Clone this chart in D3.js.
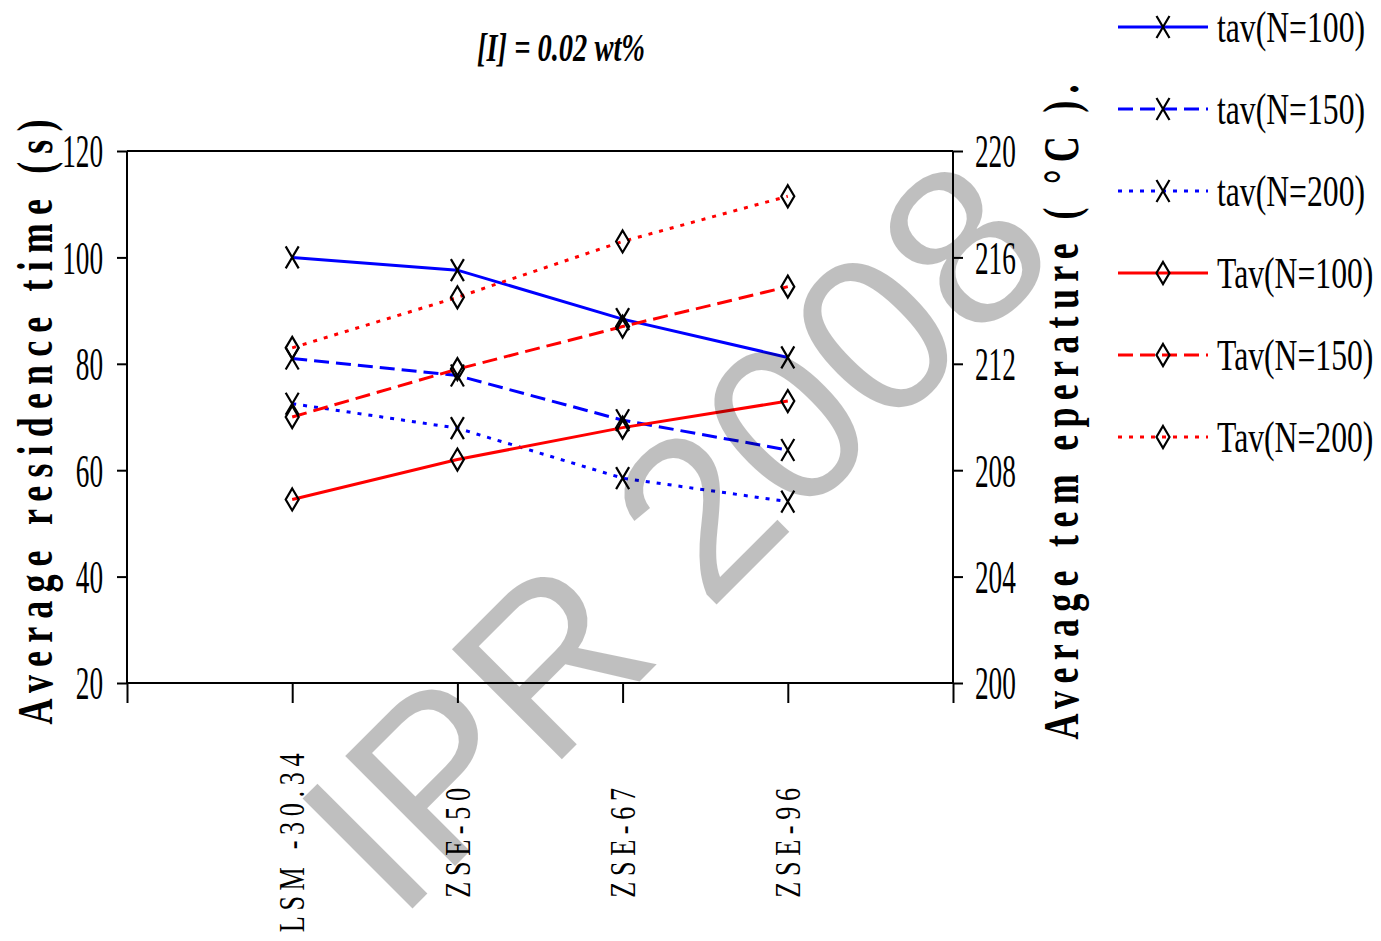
<!DOCTYPE html>
<html><head><meta charset="utf-8">
<script src="https://cdn.jsdelivr.net/npm/d3@7"></script>
<style>body{margin:0;background:#fff}svg{display:block}</style>
</head><body><svg id="c" width="1381" height="941"></svg>
<script>
const categories = ["LSM -30.34", "ZSE-50", "ZSE-67", "ZSE-96"];
const tav100 = [100, 97.6, 88.4, 81.2];
const tav150 = [81, 77.8, 69.4, 63.8];
const tav200 = [72.5, 67.9, 58.5, 54.1];
const Tav100 = [206.9, 208.4, 209.6, 210.6];
const Tav150 = [210.0, 211.8, 213.4, 214.9];
const Tav200 = [212.6, 214.5, 216.6, 218.3];
const leftTicks = [20, 40, 60, 80, 100, 120];
const rightTicks = [200, 204, 208, 212, 216, 220];
const seriesNames = ["tav(N=100)", "tav(N=150)", "tav(N=200)", "Tav(N=100)", "Tav(N=150)", "Tav(N=200)"];
const titleText = "[I] = 0.02 wt%";
const leftTitle = "Average residence time (s)";
const rightTitle = "Average tem eperature ( \u00B0C ).";
const watermark = "IPR 2008";

const series = [
  {name: seriesNames[0], values: tav100, axis: "L", color: "#0000ff", dash: null, marker: "x"},
  {name: seriesNames[1], values: tav150, axis: "L", color: "#0000ff", dash: "15,7", marker: "x"},
  {name: seriesNames[2], values: tav200, axis: "L", color: "#0000ff", dash: "4,7", marker: "x"},
  {name: seriesNames[3], values: Tav100, axis: "R", color: "#ff0000", dash: null, marker: "d"},
  {name: seriesNames[4], values: Tav150, axis: "R", color: "#ff0000", dash: "15,7", marker: "d"},
  {name: seriesNames[5], values: Tav200, axis: "R", color: "#ff0000", dash: "4,7", marker: "d"}
];

const L = 127, R = 953, T = 151, B = 683;
const svg = d3.select("#c");
const serif = "'Liberation Serif','Times New Roman',serif";

const x = d3.scalePoint().domain(categories).range([L, R]).padding(1);
const xi = d3.scaleLinear().domain([0, categories.length + 1]).range([L, R]);
const yL = d3.scaleLinear().domain([20, 120]).range([B, T]);
const yR = d3.scaleLinear().domain([200, 220]).range([B, T]);

// plot frame top
svg.append("line").attr("x1", L).attr("x2", R).attr("y1", T).attr("y2", T).attr("stroke", "#000").attr("stroke-width", 2);

// axes
const tf = 0.58;
const axL = svg.append("g").attr("transform", `translate(${L},0)`)
  .call(d3.axisLeft(yL).tickValues(leftTicks).tickSize(10).tickFormat(d3.format("d")));
const axR = svg.append("g").attr("transform", `translate(${R},0)`)
  .call(d3.axisRight(yR).tickValues(rightTicks).tickSize(10).tickFormat(d3.format("d")));
const axB = svg.append("g").attr("transform", `translate(0,${B})`)
  .call(d3.axisBottom(xi).tickValues(d3.range(categories.length + 2)).tickSize(20).tickFormat(""));
[axL, axR, axB].forEach(a => {
  a.select(".domain").attr("stroke-width", 2);
  a.selectAll(".tick line").attr("stroke-width", 2);
});
axL.select(".domain").attr("d", `M0,${T}V${B}`);
axR.select(".domain").attr("d", `M0,${T}V${B}`);
axB.select(".domain").attr("d", `M${L},0H${R}`);
axL.selectAll(".tick text").attr("x", -24 / tf).attr("dy", "0.34em").attr("transform", `scale(${tf},1)`)
  .attr("font-family", serif).attr("font-size", 47).attr("fill", "#000");
axR.selectAll(".tick text").attr("x", 22 / tf).attr("dy", "0.34em").attr("transform", `scale(${tf},1)`)
  .attr("font-family", serif).attr("font-size", 47).attr("fill", "#000");

// category labels
const cf = 0.75;
svg.append("g").selectAll("text").data(categories).join("text")
  .attr("transform", d => `translate(${x(d)},840) rotate(-90) scale(${cf},1)`)
  .attr("text-anchor", "middle").attr("dy", "0.35em")
  .attr("font-family", serif).attr("font-size", 35).attr("letter-spacing", 7.5)
  .text(d => d);

// lines
const line = s => d3.line().x((d, i) => x(categories[i])).y(d => (s.axis === "L" ? yL : yR)(d));
svg.append("g").selectAll("path").data(series).join("path")
  .attr("d", s => line(s)(s.values))
  .attr("fill", "none").attr("stroke", s => s.color).attr("stroke-width", 3)
  .attr("stroke-dasharray", s => s.dash);

const markerPath = {
  x: "M-6.5,-11L6.5,11M-6.5,11L6.5,-11",
  d: "M0,-11L6.5,0L0,11L-6.5,0Z"
};
series.forEach(s => {
  svg.append("g").selectAll("path").data(s.values).join("path")
    .attr("transform", (d, i) => `translate(${x(categories[i])},${(s.axis === "L" ? yL : yR)(d)})`)
    .attr("d", markerPath[s.marker]).attr("fill", "none").attr("stroke", "#000").attr("stroke-width", 2.2);
});

// titles
svg.append("text").attr("x", 561).attr("y", 61).attr("text-anchor", "middle")
  .attr("font-family", serif).attr("font-size", 40).attr("font-weight", "bold").attr("font-style", "italic")
  .text(titleText).attr("textLength", 168).attr("lengthAdjust", "spacingAndGlyphs");

const af = 0.72;
svg.append("text").attr("transform", `translate(52,422) rotate(-90) scale(${af},1)`).attr("text-anchor", "middle")
  .attr("font-family", serif).attr("font-size", 50).attr("font-weight", "bold")
  .text(leftTitle).attr("textLength", 605 / af).attr("lengthAdjust", "spacing");
svg.append("text").attr("transform", `translate(1078,412) rotate(-90) scale(${af},1)`).attr("text-anchor", "middle")
  .attr("font-family", serif).attr("font-size", 50).attr("font-weight", "bold")
  .text(rightTitle).attr("textLength", 655 / af).attr("lengthAdjust", "spacing");

// legend
const legY = d3.scaleLinear().domain([0, 5]).range([27, 437]);
const leg = svg.append("g").selectAll("g").data(series).join("g")
  .attr("transform", (s, i) => `translate(0,${legY(i)})`);
leg.append("line").attr("x1", 1118).attr("x2", 1208).attr("stroke", s => s.color).attr("stroke-width", 3)
  .attr("stroke-dasharray", s => s.dash);
leg.append("path").attr("transform", "translate(1163,0)").attr("d", s => markerPath[s.marker])
  .attr("fill", "none").attr("stroke", "#000").attr("stroke-width", 2.2);
leg.append("text").attr("transform", "translate(1217,15) scale(0.72,1)").attr("font-family", serif).attr("font-size", 44)
  .text(s => s.name);

// watermark
svg.append("text").attr("transform", "translate(1064,257) rotate(-45)").attr("text-anchor", "end")
  .attr("font-family", "'Liberation Sans',Arial,sans-serif").attr("font-size", 226)
  .attr("fill", "#000").attr("fill-opacity", 0.25).text(watermark);
</script></body></html>
